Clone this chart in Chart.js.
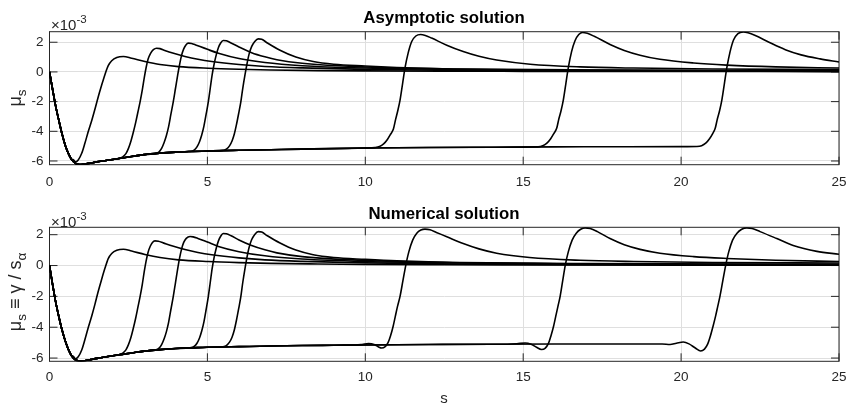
<!DOCTYPE html>
<html>
<head>
<meta charset="utf-8">
<script src="https://cdn.jsdelivr.net/npm/chart.js@4.4.1/dist/chart.umd.min.js"></script>
<style>
  html, body { margin: 0; padding: 0; background: #fff; }
  #wrap { position: relative; width: 849px; height: 405px; overflow: hidden;
          font-family: 'Liberation Sans', Arial, Helvetica, sans-serif; color: #262626; }
  canvas { position: absolute; left: 0; }
  .title { position: absolute; transform: translateX(-50%); font-weight: bold; font-size: 16.8px;
           color: #000; white-space: nowrap; line-height: 1; }
  .expo { position: absolute; font-size: 15px; white-space: nowrap; line-height: 1; }
  .expo sup { font-size: 11.5px; position: relative; top: -1px; }
  .ylab { position: absolute; transform: translate(-50%, -50%) rotate(-90deg); font-size: 18px;
          white-space: nowrap; line-height: 1; }
  .ylab sub { font-size: 13.5px; }
  .xlab { position: absolute; transform: translateX(-50%); font-size: 15px; line-height: 1; }
</style>
</head>
<body>
<div id="wrap">
  <canvas id="asyChart" width="849" height="200" style="top:0"></canvas>
  <canvas id="numChart" width="849" height="205" style="top:200px"></canvas>

  <div class="title" style="left:444px; top:10px">Asymptotic solution</div>
  <div class="expo" style="left:51px; top:15px">&times;10<sup>-3</sup></div>
  <div class="ylab" style="left:17px; top:98px">&mu;<sub>s</sub></div>

  <div class="title" style="left:444px; top:206px">Numerical solution</div>
  <div class="expo" style="left:51px; top:212px">&times;10<sup>-3</sup></div>
  <div class="ylab" style="left:17px; top:292px">&mu;<sub>s</sub> &equiv; &gamma; / s<sub>&alpha;</sub></div>
  <div class="xlab" style="left:444px; top:390px">s</div>
</div>

<script>
// Axis ticks (mu values in units of 1e-3)
const sTicks = [0, 5, 10, 15, 20, 25];
const muTicks = [-6, -4, -2, 0, 2];

// ---- Asymptotic solution ----
// common lower branch every trajectory follows before it switches up
const asyFloorS  = [0, 0.1, 0.2, 0.3, 0.4, 0.5, 0.6, 0.7, 0.8, 0.9, 1.0, 1.15, 1.3, 1.5, 1.75, 2.0, 2.3, 2.6, 3.0, 3.5, 4.0, 4.5, 5.0, 5.5, 6.0, 7.0, 8.0, 10, 12, 14, 16, 18, 20, 21];
const asyFloorMu = [0, -1.2, -2.35, -3.3, -4.2, -4.95, -5.5, -5.9, -6.12, -6.22, -6.24, -6.2, -6.14, -6.06, -5.98, -5.9, -5.8, -5.7, -5.57, -5.47, -5.4, -5.36, -5.33, -5.3, -5.28, -5.24, -5.2, -5.13, -5.09, -5.07, -5.05, -5.04, -5.03, -5.02];

const asyS1  = [0.75, 0.82, 0.91, 1.02, 1.12, 1.23, 1.34, 1.44, 1.54, 1.65, 1.76, 1.86, 1.97, 2.13, 2.34, 2.6, 3.02, 3.5, 4.08, 5.03, 6.0, 7.0, 8.5, 10, 12.5, 15, 20, 25];
const asyMu1 = [-5.9, -6.06, -5.93, -5.48, -4.81, -4.0, -3.25, -2.5, -1.7, -0.9, -0.15, 0.42, 0.75, 0.97, 1.04, 0.92, 0.7, 0.5, 0.36, 0.25, 0.18, 0.13, 0.09, 0.07, 0.05, 0.04, 0.03, 0.02];

const asyS2  = [2.2, 2.32, 2.42, 2.5, 2.58, 2.65, 2.73, 2.8, 2.87, 2.94, 3.0, 3.06, 3.12, 3.2, 3.29, 3.39, 3.5, 3.65, 3.9, 4.29, 4.7, 5.14, 6.0, 6.82, 8, 10, 13, 17, 21, 25];
const asyMu2 = [-5.83, -5.72, -5.5, -5.15, -4.65, -4.1, -3.4, -2.7, -2.0, -1.2, -0.4, 0.3, 0.85, 1.25, 1.5, 1.6, 1.57, 1.45, 1.27, 1.04, 0.85, 0.7, 0.5, 0.37, 0.27, 0.17, 0.1, 0.07, 0.05, 0.04];

const asyS3  = [3.35, 3.47, 3.55, 3.63, 3.7, 3.77, 3.84, 3.92, 3.99, 4.06, 4.12, 4.18, 4.25, 4.32, 4.4, 4.5, 4.65, 5.0, 5.35, 6.0, 6.82, 8, 10, 13, 17, 21, 25];
const asyMu3 = [-5.5, -5.38, -5.15, -4.75, -4.3, -3.7, -2.9, -2.0, -1.1, -0.2, 0.5, 1.1, 1.55, 1.82, 1.94, 1.92, 1.8, 1.52, 1.26, 0.9, 0.63, 0.42, 0.26, 0.16, 0.11, 0.08, 0.06];

const asyS4  = [4.45, 4.58, 4.67, 4.75, 4.82, 4.89, 4.96, 5.03, 5.09, 5.15, 5.21, 5.28, 5.35, 5.42, 5.5, 5.6, 5.75, 6.0, 6.4, 6.82, 7.2, 8, 10, 13, 17, 21, 25];
const asyMu4 = [-5.36, -5.27, -5.05, -4.7, -4.25, -3.65, -2.85, -2.0, -1.1, -0.2, 0.5, 1.15, 1.65, 1.95, 2.12, 2.1, 1.95, 1.68, 1.3, 1.02, 0.82, 0.58, 0.33, 0.2, 0.13, 0.1, 0.08];

const asyS5  = [5.45, 5.6, 5.7, 5.78, 5.85, 5.92, 5.99, 6.06, 6.12, 6.19, 6.25, 6.32, 6.4, 6.5, 6.61, 6.72, 6.9, 7.3, 7.8, 8.35, 9.0, 10, 11, 13, 16, 20, 25];
const asyMu5 = [-5.3, -5.2, -4.98, -4.65, -4.2, -3.55, -2.8, -2.0, -1.1, -0.2, 0.5, 1.2, 1.7, 2.05, 2.23, 2.2, 1.95, 1.46, 1.0, 0.7, 0.52, 0.4, 0.3, 0.18, 0.12, 0.08, 0.06];

const asyS6  = [10.3, 10.45, 10.58, 10.7, 10.8, 10.89, 10.96, 11.03, 11.1, 11.18, 11.26, 11.36, 11.47, 11.6, 11.75, 11.9, 12.1, 12.58, 13.1, 13.6, 14.16, 15.22, 16.8, 18.5, 21, 25];
const asyMu6 = [-5.1, -5.03, -4.85, -4.55, -4.2, -3.85, -3.2, -2.6, -1.9, -0.8, 0.3, 1.3, 2.05, 2.42, 2.52, 2.46, 2.28, 1.8, 1.37, 1.05, 0.8, 0.52, 0.34, 0.26, 0.2, 0.16];

const asyS7  = [15.47, 15.62, 15.75, 15.87, 15.97, 16.06, 16.13, 16.2, 16.27, 16.35, 16.43, 16.53, 16.64, 16.76, 16.88, 17.03, 17.25, 17.75, 18.2, 18.7, 19.33, 20.4, 21.44, 23, 25];
const asyMu7 = [-5.05, -4.98, -4.8, -4.5, -4.15, -3.8, -3.15, -2.6, -1.9, -0.8, 0.3, 1.35, 2.1, 2.52, 2.66, 2.6, 2.4, 1.85, 1.45, 1.13, 0.85, 0.6, 0.46, 0.34, 0.26];

const asyS8  = [20.5, 20.65, 20.78, 20.9, 21.0, 21.08, 21.15, 21.22, 21.29, 21.37, 21.45, 21.55, 21.66, 21.8, 21.97, 22.12, 22.35, 22.8, 23.3, 23.8, 24.4, 25];
const asyMu8 = [-5.02, -4.97, -4.8, -4.5, -4.15, -3.8, -3.15, -2.6, -1.9, -0.8, 0.3, 1.35, 2.15, 2.58, 2.7, 2.64, 2.45, 1.98, 1.5, 1.15, 0.88, 0.67];

// ---- Numerical solution ----
const numFloorS  = [0, 0.1, 0.2, 0.3, 0.4, 0.5, 0.6, 0.7, 0.8, 0.9, 1.0, 1.15, 1.3, 1.5, 1.75, 2.0, 2.3, 2.6, 3.0, 3.5, 4.0, 4.5, 5.0, 5.5, 6.0, 7.0, 8.0, 9.0, 10, 12, 14, 16, 18, 20, 21];
const numFloorMu = [0, -1.25, -2.4, -3.35, -4.2, -4.9, -5.45, -5.85, -6.08, -6.18, -6.2, -6.16, -6.1, -6.02, -5.93, -5.85, -5.76, -5.67, -5.55, -5.45, -5.38, -5.34, -5.3, -5.28, -5.26, -5.22, -5.19, -5.17, -5.15, -5.12, -5.1, -5.09, -5.09, -5.08, -5.08];

const numS1  = [0.75, 0.82, 0.91, 1.02, 1.12, 1.23, 1.34, 1.44, 1.54, 1.65, 1.76, 1.86, 1.97, 2.13, 2.34, 2.6, 3.02, 3.5, 4.08, 5.03, 6.0, 7.0, 8.5, 10, 12.5, 15, 20, 25];
const numMu1 = [-5.88, -6.05, -5.92, -5.48, -4.81, -4.0, -3.25, -2.5, -1.7, -0.9, -0.15, 0.45, 0.78, 0.99, 1.06, 0.94, 0.72, 0.52, 0.37, 0.26, 0.19, 0.14, 0.1, 0.07, 0.05, 0.04, 0.03, 0.02];

const numS2  = [2.2, 2.32, 2.42, 2.5, 2.58, 2.65, 2.73, 2.8, 2.87, 2.94, 3.0, 3.06, 3.12, 3.19, 3.26, 3.34, 3.45, 3.6, 3.9, 4.29, 4.7, 5.14, 6.0, 6.82, 8, 10, 13, 17, 21, 25];
const numMu2 = [-5.79, -5.68, -5.47, -5.13, -4.65, -4.1, -3.4, -2.7, -2.0, -1.2, -0.4, 0.3, 0.85, 1.25, 1.5, 1.6, 1.57, 1.47, 1.27, 1.04, 0.85, 0.7, 0.5, 0.37, 0.27, 0.17, 0.1, 0.07, 0.05, 0.04];

const numS3  = [3.35, 3.47, 3.55, 3.63, 3.7, 3.77, 3.84, 3.92, 3.99, 4.06, 4.12, 4.18, 4.25, 4.33, 4.45, 4.55, 4.7, 5.0, 5.35, 6.0, 6.82, 8, 10, 13, 17, 21, 25];
const numMu3 = [-5.48, -5.36, -5.13, -4.75, -4.3, -3.7, -2.9, -2.0, -1.1, -0.2, 0.5, 1.05, 1.5, 1.76, 1.88, 1.86, 1.76, 1.52, 1.24, 0.9, 0.63, 0.42, 0.26, 0.16, 0.11, 0.08, 0.06];

const numS4  = [4.45, 4.58, 4.67, 4.75, 4.82, 4.89, 4.96, 5.03, 5.09, 5.15, 5.21, 5.28, 5.35, 5.42, 5.5, 5.6, 5.75, 6.0, 6.4, 6.82, 7.2, 8, 10, 13, 17, 21, 25];
const numMu4 = [-5.34, -5.25, -5.04, -4.7, -4.25, -3.65, -2.85, -2.0, -1.1, -0.2, 0.5, 1.12, 1.6, 1.9, 2.08, 2.06, 1.93, 1.66, 1.3, 1.02, 0.82, 0.58, 0.33, 0.2, 0.13, 0.1, 0.08];

const numS5  = [5.45, 5.6, 5.7, 5.78, 5.85, 5.92, 5.99, 6.06, 6.12, 6.19, 6.25, 6.32, 6.4, 6.5, 6.61, 6.72, 6.9, 7.3, 7.8, 8.35, 9.0, 10, 11, 13, 16, 20, 25];
const numMu5 = [-5.28, -5.19, -4.97, -4.65, -4.2, -3.55, -2.8, -2.0, -1.1, -0.2, 0.5, 1.17, 1.67, 2.02, 2.2, 2.17, 1.93, 1.46, 1.0, 0.7, 0.52, 0.4, 0.3, 0.18, 0.12, 0.08, 0.06];

const numS6  = [9.7, 9.9, 10.1, 10.3, 10.42, 10.52, 10.62, 10.72, 10.8, 10.88, 10.95, 11.02, 11.1, 11.19, 11.28, 11.38, 11.5, 11.63, 11.76, 11.89, 12.05, 12.25, 12.6, 13.1, 13.6, 14.16, 15.2, 16.8, 18.5, 21, 25];
const numMu6 = [-5.16, -5.12, -5.06, -5.14, -5.28, -5.35, -5.28, -5.0, -4.55, -3.95, -3.3, -2.65, -2.0, -1.0, 0.0, 0.9, 1.65, 2.1, 2.3, 2.36, 2.32, 2.15, 1.85, 1.43, 1.08, 0.8, 0.52, 0.34, 0.26, 0.2, 0.16];

const numS7  = [14.5, 14.8, 15.06, 15.25, 15.42, 15.58, 15.7, 15.8, 15.88, 15.96, 16.03, 16.1, 16.17, 16.25, 16.33, 16.43, 16.55, 16.68, 16.82, 16.96, 17.12, 17.35, 17.75, 18.2, 18.7, 19.33, 20.4, 21.44, 23, 25];
const numMu7 = [-5.1, -5.07, -5.02, -5.1, -5.3, -5.44, -5.35, -5.05, -4.55, -3.95, -3.3, -2.65, -2.0, -1.0, 0.0, 0.9, 1.65, 2.1, 2.35, 2.44, 2.4, 2.2, 1.75, 1.35, 1.05, 0.8, 0.58, 0.46, 0.34, 0.26];

const numS8  = [19.4, 19.65, 19.85, 20.07, 20.25, 20.45, 20.62, 20.74, 20.84, 20.93, 21.01, 21.09, 21.16, 21.23, 21.32, 21.41, 21.51, 21.63, 21.77, 21.92, 22.08, 22.25, 22.5, 23.03, 23.55, 24.3, 25];
const numMu8 = [-5.09, -5.12, -5.04, -4.96, -5.08, -5.35, -5.54, -5.42, -5.1, -4.55, -3.95, -3.3, -2.65, -2.0, -1.0, 0.0, 0.9, 1.65, 2.1, 2.35, 2.44, 2.4, 2.2, 1.75, 1.3, 0.92, 0.73];

// follow the lower branch until the curve's own points take over
function trajectory(floorS, floorMu, s, mu) {
    const pts = [];
    floorS.forEach((x, i) => {
        if (x < s[0]) pts.push({ x: x, y: floorMu[i] });
    });
    s.forEach((x, i) => pts.push({ x: x, y: mu[i] }));
    return pts;
}

function makeDatasets(floorS, floorMu, branches) {
    return branches.map(([s, mu]) => ({
        data: trajectory(floorS, floorMu, s, mu),
        borderColor: '#000',
        borderWidth: 1.6,
        pointRadius: 0,
        fill: false,
        cubicInterpolationMode: 'monotone'
    }));
}

// MATLAB-style box with inward tick marks on all four sides
const boxPlugin = {
    id: 'boxPlugin',
    beforeDatasetsDraw(chart) {
        const { ctx, chartArea: a, scales } = chart;
        const len = 8;
        ctx.save();
        ctx.strokeStyle = '#262626';
        ctx.lineWidth = 1;
        ctx.beginPath();
        scales.x.ticks.forEach(t => {
            const px = scales.x.getPixelForValue(t.value);
            ctx.moveTo(px, a.bottom); ctx.lineTo(px, a.bottom - len);
            ctx.moveTo(px, a.top); ctx.lineTo(px, a.top + len);
        });
        scales.y.ticks.forEach(t => {
            const py = scales.y.getPixelForValue(t.value);
            ctx.moveTo(a.left, py); ctx.lineTo(a.left + len, py);
            ctx.moveTo(a.right, py); ctx.lineTo(a.right - len, py);
        });
        ctx.stroke();
        ctx.strokeRect(a.left, a.top, a.right - a.left, a.bottom - a.top);
        ctx.restore();
    }
};

const tickFont = { family: "'Liberation Sans', Arial, Helvetica, sans-serif", size: 13.5 };

function makeChart(id, datasets, yMin, yMax, padTop, xHeight, xPad) {
    return new Chart(document.getElementById(id), {
        type: 'line',
        data: { datasets: datasets },
        options: {
            responsive: false,
            animation: false,
            layout: { padding: { top: padTop, right: 10, left: 0, bottom: 0 } },
            plugins: { legend: { display: false }, tooltip: { enabled: false } },
            scales: {
                x: {
                    type: 'linear',
                    min: 0,
                    max: 25,
                    afterBuildTicks: scale => { scale.ticks = sTicks.map(v => ({ value: v })); },
                    afterFit: scale => {
                        scale.height = xHeight;
                        scale.paddingLeft = 0;
                        scale.paddingRight = 0;
                    },
                    ticks: { color: '#262626', font: tickFont, padding: xPad, maxRotation: 0 },
                    grid: { color: '#dfdfdf', drawTicks: false },
                    border: { display: false }
                },
                y: {
                    min: yMin,
                    max: yMax,
                    afterBuildTicks: scale => { scale.ticks = muTicks.map(v => ({ value: v })); },
                    afterFit: scale => {
                        scale.width = 49.5;
                        scale.paddingTop = 0;
                        scale.paddingBottom = 0;
                    },
                    ticks: { color: '#262626', font: tickFont, padding: 6 },
                    grid: { color: '#dfdfdf', drawTicks: false },
                    border: { display: false }
                }
            }
        },
        plugins: [boxPlugin]
    });
}

const asyChart = makeChart('asyChart',
    makeDatasets(asyFloorS, asyFloorMu, [
        [asyS1, asyMu1], [asyS2, asyMu2], [asyS3, asyMu3], [asyS4, asyMu4],
        [asyS5, asyMu5], [asyS6, asyMu6], [asyS7, asyMu7], [asyS8, asyMu8]
    ]),
    -6.25, 2.71, 31.7, 35.3, 9.5);

const numChart = makeChart('numChart',
    makeDatasets(numFloorS, numFloorMu, [
        [numS1, numMu1], [numS2, numMu2], [numS3, numMu3], [numS4, numMu4],
        [numS5, numMu5], [numS6, numMu6], [numS7, numMu7], [numS8, numMu8]
    ]),
    -6.21, 2.48, 27.3, 43.7, 8);
</script>
</body>
</html>
